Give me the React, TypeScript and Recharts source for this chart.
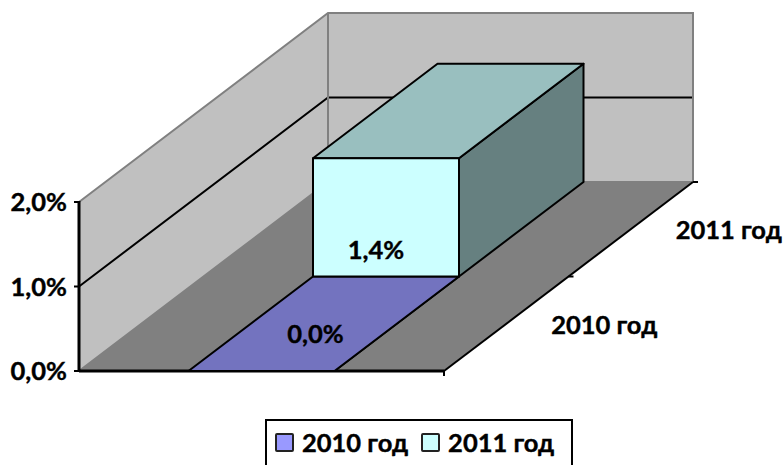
import { BarChart, Bar, XAxis, YAxis, Legend, LabelList, usePlotArea } from "recharts";

const categories = ["Показатель"];
const seriesNames = ["2010 год", "2011 год"];
const seriesValues = [0.0, 1.4];
const yTicks = [0, 1, 2];

const FRONT = ["#9999ff", "#ccffff"];
const TOP = ["#7373bf", "#99bfbf"];
const SIDE = ["#666680", "#668080"];

// how far the floor runs back, in px
const DEPTH_X = 249;
const DEPTH_Y = -189;
const FONT = "Lato, 'Open Sans', sans-serif";
const FONT_SIZE = 25.5;
const HEAVY = 0.4; // thin outline, Lato bold is lighter than the original face

const LABEL_SHIFT = [
  { dx: 127, dy: -38 },
  { dx: 63, dy: -28 },
];

const data = categories.map((cat, i) => ({
  cat,
  [seriesNames[0]]: i === 0 ? seriesValues[0] : 0,
  [seriesNames[1]]: i === 0 ? seriesValues[1] : 0,
}));

const pct = (v: number) => v.toFixed(1).replace(".", ",") + "%";

function pts(list: number[][]) {
  return list.map((p) => p.join(",")).join(" ");
}

function Room() {
  const plot = usePlotArea();
  if (!plot) return null;
  const l = plot.x;
  const r = plot.x + plot.width;
  const top = plot.y;
  const bottom = plot.y + plot.height;
  const max = yTicks[yTicks.length - 1];
  const yOf = (t: number) => bottom - (t / max) * plot.height;
  const dx = DEPTH_X;
  const dy = DEPTH_Y;
  const n = seriesNames.length;
  return (
    <g>
      <polygon points={pts([[l, bottom], [l, top], [l + dx, top + dy], [l + dx, bottom + dy]])} fill="#c0c0c0" />
      <polygon points={pts([[l + dx, top + dy], [r + dx, top + dy], [r + dx, bottom + dy], [l + dx, bottom + dy]])} fill="#c0c0c0" />
      <polygon points={pts([[l, bottom], [r, bottom], [r + dx, bottom + dy], [l + dx, bottom + dy]])} fill="#808080" />
      {yTicks.slice(1, -1).map((t) => (
        <polyline
          key={t}
          points={pts([[l, yOf(t)], [l + dx, yOf(t) + dy], [r + dx, yOf(t) + dy]])}
          fill="none"
          stroke="#000"
          strokeWidth={2}
        />
      ))}
      <polyline
        points={pts([[l, top], [l + dx, top + dy], [r + dx, top + dy], [r + dx, bottom + dy], [l + dx, bottom + dy], [l, bottom]])}
        fill="none"
        stroke="#808080"
        strokeWidth={2}
      />
      <line x1={l + dx} y1={top + dy} x2={l + dx} y2={bottom + dy} stroke="#808080" strokeWidth={2} />
      <line x1={r} y1={bottom} x2={r + dx} y2={bottom + dy} stroke="#000" strokeWidth={2} />
      <line x1={r} y1={bottom} x2={r} y2={bottom + 5} stroke="#000" strokeWidth={2} />
      {seriesNames.map((name, i) => {
        const endX = r + (dx * (i + 1)) / n;
        const endY = bottom + (dy * (i + 1)) / n;
        const midX = r + (dx * (i + 0.5)) / n;
        const midY = bottom + (dy * (i + 0.5)) / n;
        return (
          <g key={name}>
            <line x1={endX} y1={endY} x2={endX + 5} y2={endY} stroke="#000" strokeWidth={2} />
            <text
              x={midX + 98}
              y={midY}
              dominantBaseline="central"
              textAnchor="middle"
              fontFamily={FONT}
              fontWeight={700}
              fontSize={FONT_SIZE}
              fill="#000"
              stroke="#000"
              strokeWidth={HEAVY}
            >
              {name}
            </text>
          </g>
        );
      })}
    </g>
  );
}

// front axes sit on top of the room and the flat 2010 box
function FrontAxes() {
  const plot = usePlotArea();
  if (!plot) return null;
  const l = plot.x;
  const r = plot.x + plot.width;
  const top = plot.y;
  const bottom = plot.y + plot.height;
  const max = yTicks[yTicks.length - 1];
  return (
    <g>
      <path d={`M${l} ${top - 1}V${bottom + 1}M${l} ${bottom}H${r}`} fill="none" stroke="#000000" strokeWidth={3} />
      {yTicks.map((t) => {
        const y = bottom - (t / max) * plot.height;
        return <path key={t} d={`M${l - 5} ${y}H${l}`} fill="none" stroke="#000000" strokeWidth={2} />;
      })}
    </g>
  );
}

function Box3D(props: any) {
  const { x, y, width, height, depth } = props;
  const n = seriesNames.length;
  const ox = (DEPTH_X * depth) / n;
  const oy = (DEPTH_Y * depth) / n;
  const bx = DEPTH_X / n;
  const by = DEPTH_Y / n;
  const fx = x + ox;
  const fy = y + oy;
  const line = { stroke: "#000", strokeWidth: 2, strokeLinejoin: "round" as const };
  return (
    <g>
      <polygon
        points={pts([[fx + width, fy], [fx + width + bx, fy + by], [fx + width + bx, fy + by + height], [fx + width, fy + height]])}
        fill={SIDE[depth]}
        {...line}
      />
      <polygon
        points={pts([[fx, fy], [fx + bx, fy + by], [fx + width + bx, fy + by], [fx + width, fy]])}
        fill={TOP[depth]}
        {...line}
      />
      <rect x={fx} y={fy} width={width} height={height} fill={FRONT[depth]} {...line} />
    </g>
  );
}

function BarLabel(props: any) {
  const { x, y, height, value, depth } = props;
  const n = seriesNames.length;
  return (
    <text
      x={x + (DEPTH_X * depth) / n + LABEL_SHIFT[depth].dx}
      y={y + height + (DEPTH_Y * depth) / n + LABEL_SHIFT[depth].dy}
      dominantBaseline="central"
      textAnchor="middle"
      fontFamily={FONT}
      fontWeight={700}
      fontSize={FONT_SIZE}
      fill="#000"
      stroke="#000"
      strokeWidth={HEAVY}
    >
      {pct(Number(value))}
    </text>
  );
}

function LegendBox(props: any) {
  const items = props.payload || [];
  return (
    <div
      style={{
        boxSizing: "border-box",
        width: 308,
        height: 46,
        border: "2px solid #000",
        borderBottom: "none",
        display: "flex",
        alignItems: "flex-start",
        paddingTop: 9,
        paddingLeft: 8,
        fontFamily: FONT,
        fontWeight: 700,
        fontSize: FONT_SIZE,
        lineHeight: "24px",
        color: "#000",
        WebkitTextStroke: `${HEAVY}px #000`,
      }}
    >
      {items.map((it: any) => (
        <div key={it.value} style={{ display: "flex", alignItems: "center", marginRight: 13, whiteSpace: "nowrap" }}>
          <span
            style={{
              boxSizing: "border-box",
              width: 19,
              height: 19,
              borderRadius: 2,
              border: "2px solid #222",
              background: it.color,
              marginRight: 8,
            }}
          />
          {it.value}
        </div>
      ))}
    </div>
  );
}

export default function App() {
  return (
    <div style={{ position: "absolute", left: 0, top: 0, width: 784, height: 465, overflow: "hidden", background: "#fff" }}>
      <BarChart
        width={784}
        height={465}
        data={data}
        barCategoryGap="30%"
        margin={{ top: 202, right: 340, bottom: 48, left: 0 }}
      >
        <Room />
        <XAxis dataKey="cat" tick={false} height={0} axisLine={false} tickLine={false} />
        <YAxis
          width={79}
          domain={[0, 2]}
          ticks={yTicks}
          interval={0}
          tickFormatter={pct}
          tick={{ fontFamily: FONT, fontWeight: 700, fontSize: FONT_SIZE, fill: "#000", stroke: "#000", strokeWidth: HEAVY }}
          tickSize={4}
          tickMargin={8}
          axisLine={false}
          tickLine={false}
        />
        <Legend
          content={<LegendBox />}
          wrapperStyle={{ position: "absolute", left: 265, top: 419, bottom: "auto", width: 308, height: 46 }}
        />
        {seriesNames.map((name, i) => (
          <Bar
            key={name}
            dataKey={name}
            name={name}
            stackId="depth"
            fill={FRONT[i]}
            isAnimationActive={false}
            shape={(p: any) => <Box3D {...p} depth={i} />}
          >
            <LabelList dataKey={name} content={(p: any) => <BarLabel {...p} depth={i} />} />
          </Bar>
        ))}
        <FrontAxes />
      </BarChart>
    </div>
  );
}
